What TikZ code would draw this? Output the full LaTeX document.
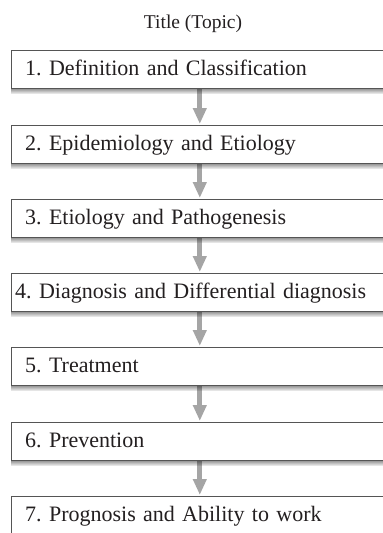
\documentclass[tikz,border=0pt]{standalone}
\usepackage{fontspec}
\setmainfont{Liberation Serif}
\usetikzlibrary{arrows.meta,fadings}
\definecolor{framegray}{HTML}{555555}
\definecolor{arrowgray}{HTML}{A5A5A5}
\definecolor{inkblack}{HTML}{231F20}
\frenchspacing

\begin{document}
\begin{tikzpicture}[x=1pt,y=-1pt,line join=miter,
  every node/.style={text=inkblack,font=\fontsize{22}{26}\selectfont},
  stepbox/.style={fill=white,anchor=north west,
    minimum height=38pt,text width=344pt,inner xsep=14pt,inner ysep=0pt,
    text height=16.5pt,text depth=3pt,align=left},
  frame/.style={draw=framegray,line width=1pt},
  flow/.style={draw=arrowgray,line width=5pt,shorten >=1pt,
    -{Triangle[width=13pt,length=16pt]}}]
  \def\L{11}
  \useasboundingbox (0,0) rectangle (383,533);
  % title
  \node[anchor=base] (title) at (193,28) {\fontsize{19.5}{23}\selectfont Title (Topic)};
  % steps
  \node[stepbox] (b1) at (\L,50) {1. Definition and Classification};
  \node[stepbox] (b2) at (\L,125) {2. Epidemiology and Etiology};
  \node[stepbox] (b3) at (\L,199) {3. Etiology and Pathogenesis};
  \node[stepbox,text width=364pt,inner xsep=4pt] (b4) at (\L,273) {4. Diagnosis and Differential diagnosis};
  \node[stepbox] (b5) at (\L,347) {5. Treatment};
  \node[stepbox] (b6) at (\L,422) {6. Prevention};
  \node[stepbox] (b7) at (\L,496) {7. Prognosis and Ability to work};
  % open frames, cut off at the right edge
  \foreach \a in {b1,b2,b3,b4,b5,b6,b7}
    \draw[frame] (\a.north east) -- (\a.north west) -- (\a.south west) -- (\a.south east);
  % arrows down the middle
  \coordinate (axis) at (199.8,0);
  \foreach \a/\b in {b1/b2,b2/b3,b3/b4,b4/b5,b5/b6,b6/b7}
    \draw[flow] ([yshift=-0.5pt]\a.south -| axis) -- (\b.north -| axis);
  % soft shadow under each box
  \foreach \a in {b1,b2,b3,b4,b5,b6}
    \fill[black,opacity=0.4,path fading=south] ([yshift=-0.5pt]\a.south west) rectangle ([yshift=-6pt]\a.south east);
\end{tikzpicture}
\end{document}
